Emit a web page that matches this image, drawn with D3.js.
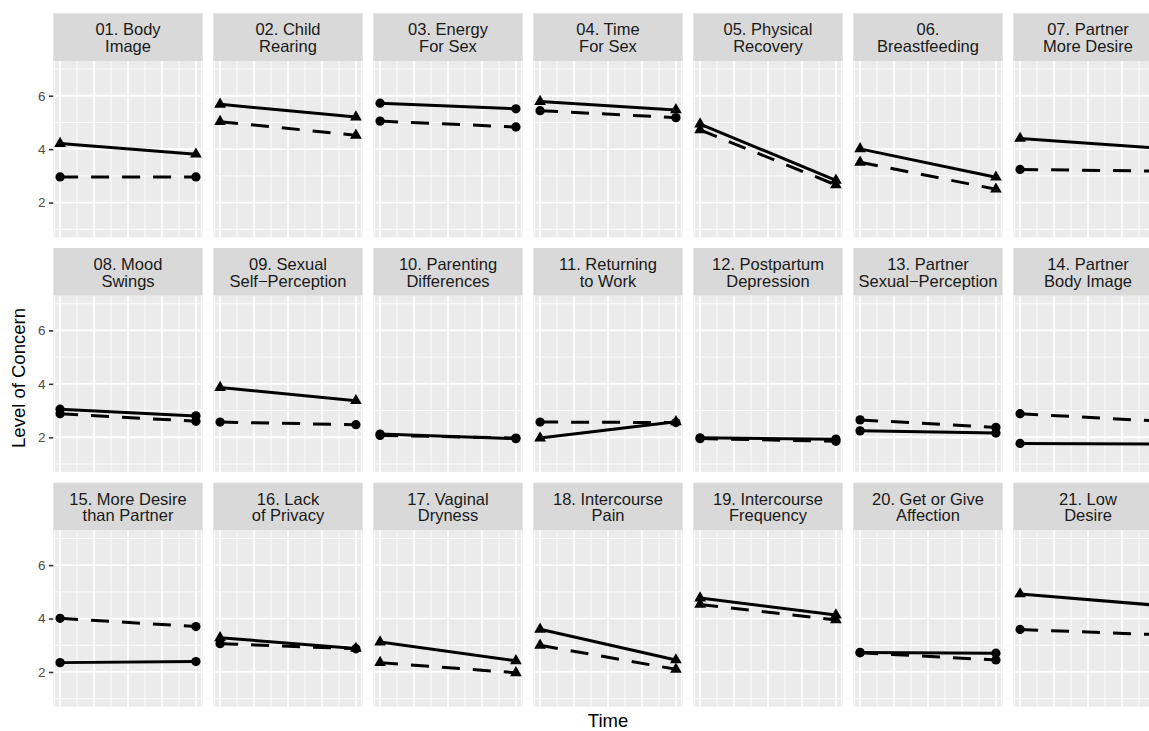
<!DOCTYPE html>
<html>
<head>
<meta charset="utf-8">
<script src="https://cdn.jsdelivr.net/npm/d3@7"></script>
<style>
  body { margin: 0; background: #fff; }
  text { font-family: "Liberation Sans", Arial, Helvetica, sans-serif; }
</style>
</head>
<body>
<svg id="chart" width="1149" height="731"></svg>
<script>
// facet labels (two lines each)
var labels = [
  ['01. Body', 'Image'], ['02. Child', 'Rearing'], ['03. Energy', 'For Sex'],
  ['04. Time', 'For Sex'], ['05. Physical', 'Recovery'], ['06.', 'Breastfeeding'],
  ['07. Partner', 'More Desire'], ['08. Mood', 'Swings'], ['09. Sexual', 'Self\u2212Perception'],
  ['10. Parenting', 'Differences'], ['11. Returning', 'to Work'], ['12. Postpartum', 'Depression'],
  ['13. Partner', 'Sexual\u2212Perception'], ['14. Partner', 'Body Image'], ['15. More Desire', 'than Partner'],
  ['16. Lack', 'of Privacy'], ['17. Vaginal', 'Dryness'], ['18. Intercourse', 'Pain'],
  ['19. Intercourse', 'Frequency'], ['20. Get or Give', 'Affection'], ['21. Low', 'Desire']
];

var times = [1, 2];

// solid line series
var solidStart = [4.21, 5.68, 5.72, 5.78, 4.94, 4.01, 4.40, 3.05, 3.86, 2.12, 1.97, 1.98, 2.24, 1.77, 2.35, 3.28, 3.12, 3.60, 4.77, 2.73, 4.92];
var solidEnd   = [3.81, 5.20, 5.51, 5.47, 2.83, 2.95, 4.04, 2.80, 3.37, 1.95, 2.58, 1.93, 2.16, 1.75, 2.39, 2.88, 2.42, 2.45, 4.13, 2.70, 4.50];
var solidShape = ['t', 't', 'c', 't', 't', 't', 't', 'c', 't', 'c', 't', 'c', 'c', 'c', 'c', 't', 't', 't', 't', 'c', 't'];

// dashed line series
var dashStart = [2.96, 5.03, 5.05, 5.44, 4.72, 3.51, 3.24, 2.88, 2.57, 2.07, 2.57, 1.95, 2.65, 2.88, 4.01, 3.06, 2.35, 3.00, 4.53, 2.72, 3.59];
var dashEnd   = [2.96, 4.52, 4.83, 5.18, 2.66, 2.50, 3.18, 2.60, 2.47, 1.97, 2.55, 1.85, 2.37, 2.61, 3.70, 2.87, 1.97, 2.10, 3.95, 2.45, 3.40];
var dashShape = ['c', 't', 'c', 'c', 't', 't', 'c', 'c', 'c', 'c', 'c', 'c', 'c', 'c', 'c', 'c', 't', 't', 't', 'c', 'c'];

var yMajor = [2, 4, 6];
var yMinor = [1, 3, 5, 7];
var xMajor = [1, 1.25, 1.5, 1.75, 2];
var xMinor = [0.958, 1.125, 1.375, 1.625, 1.875, 2.042];

var marginLeft = 53.3, marginTop = 13.3;
var panelW = 149.4, colStep = 160;
var stripH = 47.7, panelH = 176.3, rowStep = 234.7;
var ncol = 7;

var svg = d3.select('#chart');

var x = d3.scaleLinear().domain([0.95, 2.05]).range([0, panelW]);
var y = d3.scaleLinear().domain([0.7, 7.3]).range([panelH, 0]);

var line = d3.line()
    .x(function(d) { return x(d.t); })
    .y(function(d) { return y(d.v); });

var triangle = d3.symbol().type(d3.symbolTriangle).size(60);
var circle = d3.symbol().type(d3.symbolCircle).size(68);

svg.append('defs').append('clipPath')
    .attr('id', 'panelclip')
  .append('rect')
    .attr('width', panelW)
    .attr('height', panelH);

labels.forEach(function(lab, i) {
    var col = i % ncol;
    var row = Math.floor(i / ncol);
    var g = svg.append('g')
        .attr('transform', 'translate(' + (marginLeft + col * colStep) + ',' + (marginTop + row * rowStep) + ')');

    // strip
    g.append('rect')
        .attr('width', panelW)
        .attr('height', stripH)
        .attr('fill', '#d9d9d9');
    g.append('text')
        .attr('text-anchor', 'middle')
        .attr('fill', '#1a1a1a')
        .style('font-size', '16.5px')
        .selectAll('tspan')
        .data(lab)
        .enter().append('tspan')
        .attr('x', panelW / 2)
        .attr('y', function(d, k) { return 22 + k * 16.7; })
        .text(function(d) { return d; });

    var p = g.append('g').attr('transform', 'translate(0,' + stripH + ')');
    p.append('rect')
        .attr('width', panelW)
        .attr('height', panelH)
        .attr('fill', '#ebebeb');

    // grid
    p.selectAll('line.hminor').data(yMinor).enter().append('line')
        .attr('x1', 0).attr('x2', panelW)
        .attr('y1', y).attr('y2', y)
        .attr('stroke', '#fff').attr('stroke-width', 0.9);
    p.selectAll('line.vminor').data(xMinor).enter().append('line')
        .attr('y1', 0).attr('y2', panelH)
        .attr('x1', x).attr('x2', x)
        .attr('stroke', '#fff').attr('stroke-width', 0.9);
    p.selectAll('line.hmajor').data(yMajor).enter().append('line')
        .attr('x1', 0).attr('x2', panelW)
        .attr('y1', y).attr('y2', y)
        .attr('stroke', '#fff').attr('stroke-width', 1.8);
    p.selectAll('line.vmajor').data(xMajor).enter().append('line')
        .attr('y1', 0).attr('y2', panelH)
        .attr('x1', x).attr('x2', x)
        .attr('stroke', '#fff').attr('stroke-width', 1.8);

    var series = [
        {vals: [solidStart[i], solidEnd[i]], shape: solidShape[i], dash: null},
        {vals: [dashStart[i], dashEnd[i]], shape: dashShape[i], dash: '18,13'}
    ];

    var marks = p.append('g').attr('clip-path', 'url(#panelclip)');

    series.forEach(function(s) {
        var pts = s.vals.map(function(v, k) { return {t: times[k], v: v}; });
        marks.append('path')
            .attr('d', line(pts))
            .attr('fill', 'none')
            .attr('stroke', '#000')
            .attr('stroke-width', 3)
            .attr('stroke-dasharray', s.dash);
    });
    series.forEach(function(s) {
        var pts = s.vals.map(function(v, k) { return {t: times[k], v: v}; });
        marks.selectAll(null).data(pts).enter().append('path')
            .attr('transform', function(d) { return 'translate(' + x(d.t) + ',' + y(d.v) + ')'; })
            .attr('d', s.shape === 't' ? triangle() : circle())
            .attr('fill', '#000');
    });

    if(col === 0) {
        var ax = p.append('g')
            .call(d3.axisLeft(y).tickValues(yMajor).tickFormat(d3.format('d'))
                .tickSize(4.4).tickPadding(3.5));
        ax.select('.domain').remove();
        ax.selectAll('.tick line').attr('stroke', '#333').attr('stroke-width', 1.6);
        ax.selectAll('.tick text')
            .attr('fill', '#4d4d4d')
            .style('font-size', '13.5px')
            .style('font-family', '"Liberation Sans", Arial, Helvetica, sans-serif');
    }
});

// axis titles
var panelsRight = marginLeft + (ncol - 1) * colStep + panelW;
svg.append('text')
    .attr('x', (marginLeft + panelsRight) / 2)
    .attr('y', 727)
    .attr('text-anchor', 'middle')
    .attr('fill', '#000')
    .style('font-size', '18.5px')
    .text('Time');

svg.append('text')
    .attr('transform', 'translate(25,378) rotate(-90)')
    .attr('text-anchor', 'middle')
    .attr('fill', '#000')
    .style('font-size', '18.5px')
    .text('Level of Concern');
</script>
</body>
</html>
